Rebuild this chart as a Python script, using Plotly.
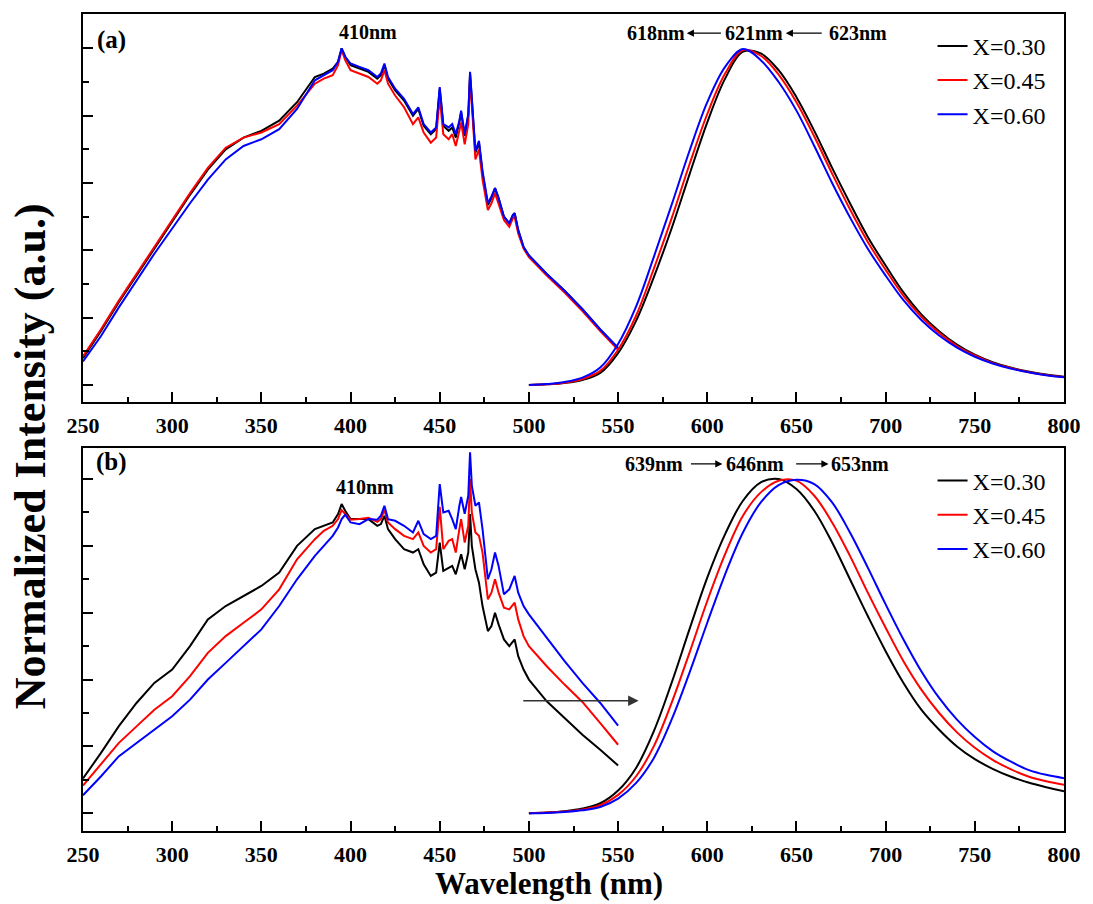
import plotly.graph_objects as go

# ---------------- data ----------------
SERIES_NAMES = ["X=0.30", "X=0.45", "X=0.60"]
SERIES_COLORS = ["#000000", "#ff0000", "#0000ff"]

EX_WL = [250, 260, 270, 280, 290, 300, 310, 320, 330, 340, 350, 360, 370, 380, 385, 390,
         393, 395, 397, 400, 405, 410, 415, 417, 419, 421, 425, 430, 435, 438, 441, 445,
         448, 450, 452, 455, 457, 459, 461, 462, 464, 466, 467, 468, 470, 472, 474, 477,
         479, 481, 483, 486, 489, 491, 492, 494, 497, 500, 510, 520, 530, 540, 550]

# panel (a) excitation
A_EX_030 = [0.08, 0.16, 0.245, 0.325, 0.405, 0.485, 0.565, 0.64, 0.70, 0.735, 0.755, 0.785, 0.84, 0.915, 0.925, 0.94,
            0.96, 1.0, 0.975, 0.95, 0.94, 0.93, 0.91, 0.92, 0.95, 0.91, 0.875, 0.845, 0.80, 0.82, 0.77, 0.745,
            0.76, 0.88, 0.77, 0.755, 0.765, 0.735, 0.78, 0.81, 0.74, 0.80, 0.925, 0.84, 0.69, 0.72, 0.63, 0.535,
            0.555, 0.585, 0.555, 0.50, 0.48, 0.505, 0.51, 0.46, 0.41, 0.385, 0.33, 0.28, 0.225, 0.165, 0.11]
A_EX_045 = [0.085, 0.165, 0.25, 0.33, 0.41, 0.49, 0.57, 0.645, 0.705, 0.735, 0.75, 0.775, 0.83, 0.895, 0.91, 0.92,
            0.95, 0.995, 0.965, 0.935, 0.925, 0.915, 0.895, 0.905, 0.935, 0.895, 0.86, 0.825, 0.775, 0.795, 0.75, 0.72,
            0.735, 0.855, 0.745, 0.73, 0.745, 0.71, 0.755, 0.78, 0.715, 0.775, 0.91, 0.82, 0.67, 0.70, 0.61, 0.52,
            0.54, 0.57, 0.54, 0.49, 0.47, 0.495, 0.50, 0.45, 0.405, 0.38, 0.325, 0.275, 0.22, 0.16, 0.105]
A_EX_060 = [0.07, 0.145, 0.23, 0.31, 0.39, 0.465, 0.54, 0.61, 0.67, 0.71, 0.73, 0.76, 0.82, 0.905, 0.92, 0.935,
            0.96, 1.0, 0.975, 0.955, 0.945, 0.935, 0.915, 0.925, 0.955, 0.915, 0.88, 0.85, 0.805, 0.825, 0.775, 0.75,
            0.765, 0.885, 0.775, 0.765, 0.775, 0.745, 0.785, 0.815, 0.745, 0.805, 0.93, 0.845, 0.695, 0.725, 0.635, 0.54,
            0.56, 0.585, 0.555, 0.50, 0.48, 0.505, 0.51, 0.46, 0.41, 0.385, 0.33, 0.28, 0.225, 0.165, 0.11]

# panel (b) excitation
B_EX_030 = [0.104, 0.18, 0.26, 0.33, 0.39, 0.43, 0.50, 0.58, 0.62, 0.65, 0.68, 0.72, 0.80, 0.85, 0.86, 0.87,
            0.895, 0.925, 0.905, 0.88, 0.88, 0.88, 0.86, 0.865, 0.89, 0.85, 0.82, 0.79, 0.78, 0.79, 0.745, 0.71,
            0.72, 0.81, 0.725, 0.735, 0.74, 0.715, 0.76, 0.775, 0.73, 0.78, 0.895, 0.80, 0.73, 0.69, 0.62, 0.545,
            0.56, 0.60, 0.565, 0.52, 0.50, 0.515, 0.52, 0.47, 0.43, 0.40, 0.335, 0.285, 0.235, 0.19, 0.143]
B_EX_045 = [0.083, 0.145, 0.21, 0.26, 0.31, 0.35, 0.41, 0.48, 0.53, 0.57, 0.61, 0.67, 0.76, 0.82, 0.845, 0.86,
            0.88, 0.907, 0.895, 0.878, 0.88, 0.884, 0.872, 0.88, 0.907, 0.87, 0.85, 0.83, 0.82, 0.84, 0.80, 0.78,
            0.79, 0.917, 0.79, 0.815, 0.82, 0.78, 0.85, 0.88, 0.81, 0.86, 1.0, 0.90, 0.84, 0.83, 0.78, 0.64,
            0.66, 0.70, 0.66, 0.615, 0.61, 0.625, 0.63, 0.58, 0.53, 0.50, 0.44, 0.385, 0.333, 0.27, 0.205]
B_EX_060 = [0.054, 0.11, 0.17, 0.21, 0.25, 0.29, 0.34, 0.40, 0.45, 0.50, 0.55, 0.62, 0.70, 0.77, 0.80, 0.83,
            0.855, 0.88, 0.893, 0.87, 0.865, 0.88, 0.878, 0.89, 0.92, 0.88, 0.875, 0.86, 0.84, 0.875, 0.835, 0.82,
            0.83, 0.985, 0.90, 0.905, 0.88, 0.85, 0.92, 0.946, 0.896, 0.95, 1.08, 0.98, 0.92, 0.93, 0.85, 0.70,
            0.73, 0.78, 0.74, 0.655, 0.67, 0.70, 0.71, 0.66, 0.62, 0.595, 0.524, 0.455, 0.39, 0.33, 0.262]

EM_WL = [500, 510, 520, 530, 540, 550, 560, 570, 580, 590, 600, 610, 620, 630, 640, 650,
         660, 670, 680, 690, 700, 710, 720, 730, 740, 750, 760, 770, 780, 790, 800]

# panel (a) emission (peaks 623 / 621 / 618 nm)
A_EM_030 = [0.0, 0.002, 0.006, 0.015, 0.036, 0.095, 0.19, 0.32, 0.465, 0.625, 0.78, 0.91, 0.99, 0.985, 0.935, 0.855,
            0.755, 0.645, 0.54, 0.44, 0.355, 0.275, 0.21, 0.16, 0.12, 0.09, 0.068, 0.052, 0.04, 0.031, 0.025]
A_EM_045 = [0.0, 0.002, 0.007, 0.018, 0.042, 0.105, 0.205, 0.345, 0.495, 0.655, 0.805, 0.925, 0.995, 0.978, 0.922, 0.84,
            0.738, 0.628, 0.522, 0.425, 0.342, 0.265, 0.203, 0.155, 0.116, 0.088, 0.066, 0.051, 0.039, 0.03, 0.024]
A_EM_060 = [0.0, 0.003, 0.009, 0.022, 0.052, 0.122, 0.232, 0.38, 0.535, 0.695, 0.84, 0.945, 0.998, 0.965, 0.90, 0.815,
            0.71, 0.60, 0.498, 0.405, 0.325, 0.252, 0.193, 0.147, 0.111, 0.084, 0.064, 0.049, 0.038, 0.029, 0.023]

# panel (b) emission (peaks 639 / 646 / 653 nm)
B_EM_030 = [0.0, 0.002, 0.006, 0.014, 0.03, 0.068, 0.135, 0.245, 0.39, 0.55, 0.705, 0.835, 0.935, 0.99, 1.0, 0.97,
            0.905, 0.81, 0.70, 0.59, 0.485, 0.39, 0.31, 0.25, 0.20, 0.162, 0.133, 0.11, 0.092, 0.078, 0.066]
B_EM_045 = [0.0, 0.002, 0.005, 0.011, 0.024, 0.055, 0.11, 0.20, 0.33, 0.48, 0.635, 0.775, 0.89, 0.96, 0.995, 0.995,
            0.95, 0.87, 0.77, 0.66, 0.555, 0.455, 0.37, 0.30, 0.242, 0.196, 0.16, 0.132, 0.11, 0.096, 0.085]
B_EM_060 = [0.0, 0.001, 0.004, 0.009, 0.019, 0.044, 0.09, 0.165, 0.28, 0.42, 0.57, 0.715, 0.84, 0.93, 0.982, 0.998,
            0.985, 0.93, 0.84, 0.735, 0.625, 0.52, 0.425, 0.345, 0.28, 0.228, 0.186, 0.155, 0.13, 0.115, 0.105]

X_TICKS = [250, 300, 350, 400, 450, 500, 550, 600, 650, 700, 750, 800]

# ---------------- figure ----------------
SERIF = "Liberation Serif"
fig = go.Figure()

panels = [
    ("x", "y", [A_EX_030, A_EX_045, A_EX_060], [A_EM_030, A_EM_045, A_EM_060], "legend"),
    ("x2", "y2", [B_EX_030, B_EX_045, B_EX_060], [B_EM_030, B_EM_045, B_EM_060], "legend2"),
]
for xa, ya, exs, ems, leg in panels:
    for name, col, ex in zip(SERIES_NAMES, SERIES_COLORS, exs):
        fig.add_trace(go.Scatter(x=EX_WL, y=ex, mode="lines", xaxis=xa, yaxis=ya,
                                 line=dict(color=col, width=2), showlegend=False,
                                 hoverinfo="skip"))
    for name, col, em in zip(SERIES_NAMES, SERIES_COLORS, ems):
        fig.add_trace(go.Scatter(x=EM_WL, y=em, mode="lines", xaxis=xa, yaxis=ya, name=name,
                                 line=dict(color=col, width=2, shape="spline", smoothing=1.0),
                                 legend=leg, showlegend=True))

axis_common = dict(
    showline=True, linecolor="black", linewidth=2, mirror=True,
    ticks="inside", tickcolor="black", tickwidth=2, showgrid=False, zeroline=False,
)
xaxis_common = dict(
    axis_common, range=[250, 800], tickvals=X_TICKS, ticklen=10,
    tickfont=dict(family=SERIF, size=22, color="black", weight="bold"),
    ticklabelstandoff=3,
    minor=dict(dtick=25, ticklen=5, tickwidth=2, tickcolor="black", ticks="inside", showgrid=False),
)
yaxis_common = dict(
    axis_common, showticklabels=False, dtick=0.2, tick0=0, ticklen=10,
    minor=dict(dtick=0.1, ticklen=6, tickwidth=2, tickcolor="black", ticks="inside", showgrid=False),
)

legend_font = dict(family=SERIF, size=24, color="black")
fig.update_layout(
    width=1093, height=904,
    margin=dict(l=83, r=21, t=12, b=73),
    paper_bgcolor="white", plot_bgcolor="white",
    font=dict(family=SERIF, color="black"),
    xaxis=dict(xaxis_common, anchor="y"),
    yaxis=dict(yaxis_common, anchor="x", domain=[0.5254, 1.0], range=[-0.0496, 1.102]),
    xaxis2=dict(xaxis_common, anchor="y2"),
    yaxis2=dict(yaxis_common, anchor="x2", domain=[0.0, 0.4689], range=[-0.053, 1.093]),
    legend=dict(x=0.866, y=0.988, xanchor="left", yanchor="top", bgcolor="rgba(0,0,0,0)",
                font=legend_font, tracegroupgap=0),
    legend2=dict(x=0.866, y=0.456, xanchor="left", yanchor="top", bgcolor="rgba(0,0,0,0)",
                 font=legend_font, tracegroupgap=0),
    showlegend=True,
)

ann = []
bold = dict(family=SERIF, size=20, color="black", weight="bold")
# panel labels
ann.append(dict(text="(a)", x=266, y=1.025, xref="x", yref="y", showarrow=False,
                font=dict(family=SERIF, size=25, color="black", weight="bold")))
ann.append(dict(text="(b)", x=266, y=1.05, xref="x2", yref="y2", showarrow=False,
                font=dict(family=SERIF, size=25, color="black", weight="bold")))
# 410 nm labels
ann.append(dict(text="410nm", x=410, y=1.05, xref="x", yref="y", showarrow=False, font=bold))
ann.append(dict(text="410nm", x=408, y=0.975, xref="x2", yref="y2", showarrow=False, font=bold))
# peak labels panel a
for t, xv in [("618nm", 571), ("621nm", 626), ("623nm", 684.5)]:
    ann.append(dict(text=t, x=xv, y=1.045, xref="x", yref="y", showarrow=False, font=bold))
for head, tail in [(588.5, 608.5), (644, 665)]:
    ann.append(dict(text="", x=head, y=1.045, ax=tail, ay=1.045, xref="x", yref="y",
                    axref="x", ayref="y", showarrow=True, arrowhead=2, arrowsize=1.2,
                    arrowwidth=1.2, arrowcolor="black"))
# peak labels panel b
for t, xv in [("639nm", 570), ("646nm", 626.5), ("653nm", 685.5)]:
    ann.append(dict(text=t, x=xv, y=1.045, xref="x2", yref="y2", showarrow=False, font=bold))
for head, tail in [(608.5, 590), (668, 649)]:
    ann.append(dict(text="", x=head, y=1.045, ax=tail, ay=1.045, xref="x2", yref="y2",
                    axref="x2", ayref="y2", showarrow=True, arrowhead=2, arrowsize=1.2,
                    arrowwidth=1.2, arrowcolor="black"))
# shift arrow in panel b
ann.append(dict(text="", x=561.5, y=0.337, ax=496, ay=0.337, xref="x2", yref="y2",
                axref="x2", ayref="y2", showarrow=True, arrowhead=2, arrowsize=1.4,
                arrowwidth=1.5, arrowcolor="#333333"))
# axis titles
ann.append(dict(text="Wavelength (nm)", x=0.475, y=-0.0640, xref="paper", yref="paper",
                xanchor="center", yanchor="middle", showarrow=False,
                font=dict(family=SERIF, size=31, color="black", weight="bold")))
ann.append(dict(text="Normalized Intensity (a.u.)", x=-0.0535, y=0.458, xref="paper", yref="paper",
                xanchor="center", yanchor="middle", textangle=-90, showarrow=False,
                font=dict(family=SERIF, size=44, color="black", weight="bold")))
fig.update_layout(annotations=ann)

fig.write_html("out.html")
